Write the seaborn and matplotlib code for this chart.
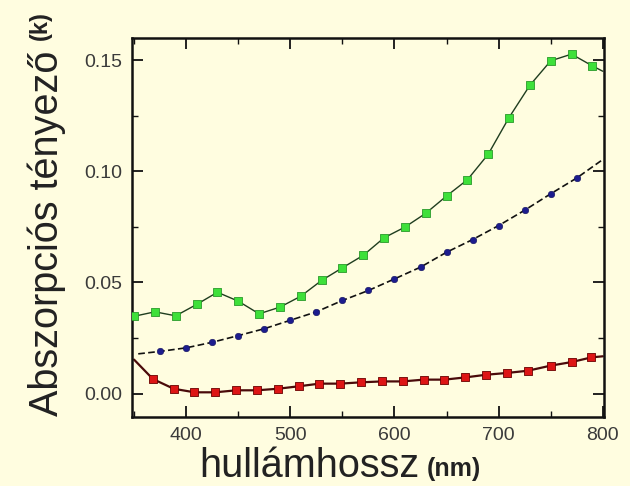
import numpy as np
import pandas as pd
import seaborn as sns
import matplotlib.pyplot as plt
from matplotlib.ticker import MultipleLocator

# wavelength (nm) and absorption coefficient k
green_wl = [350, 370, 390, 410, 430, 450, 470, 490, 510, 530, 550, 570, 590, 610,
            630, 650, 670, 690, 710, 730, 750, 770, 790, 800]
green_k = [0.0348, 0.0368, 0.0350, 0.0401, 0.0456, 0.0416, 0.0359, 0.0389, 0.0438,
           0.0509, 0.0566, 0.0622, 0.0701, 0.0749, 0.0811, 0.0889, 0.0962, 0.1077,
           0.1242, 0.1387, 0.1497, 0.1527, 0.1474, 0.1450]

blue_wl = [354, 375, 400, 425, 450, 475, 500, 525, 550, 575, 600, 625, 650, 675,
           700, 725, 750, 775, 800]
blue_k = [0.0179, 0.0190, 0.0206, 0.0231, 0.0261, 0.0292, 0.0330, 0.0368, 0.0419,
          0.0464, 0.0516, 0.0569, 0.0636, 0.0693, 0.0756, 0.0825, 0.0899, 0.0970,
          0.1053]

red_wl = [350, 368, 388, 408, 428, 448, 468, 488, 508, 528, 548, 568, 588, 608,
          628, 648, 668, 688, 708, 728, 750, 770, 789, 800]
red_k = [0.0153, 0.0066, 0.0022, 0.0006, 0.0006, 0.0015, 0.0015, 0.0022, 0.0033,
         0.0045, 0.0045, 0.0051, 0.0055, 0.0055, 0.0063, 0.0063, 0.0073, 0.0085,
         0.0093, 0.0103, 0.0126, 0.0142, 0.0163, 0.0168]

bg = '#fffde0'

sns.set_theme(style="ticks")
plt.rcParams['font.family'] = ['Liberation Sans', 'DejaVu Sans']

fig = plt.figure(figsize=(6.3, 4.86), dpi=100, facecolor=bg)
ax = fig.add_axes([0.2095, 0.142, 0.749, 0.780])
ax.set_facecolor(bg)

green = pd.DataFrame({'wl': green_wl, 'k': green_k})
blue = pd.DataFrame({'wl': blue_wl, 'k': blue_k})
red = pd.DataFrame({'wl': red_wl, 'k': red_k})

# lines
sns.lineplot(data=green, x='wl', y='k', ax=ax, color='#1f3d1f', lw=1.0,
             estimator=None, sort=False)
sns.lineplot(data=blue, x='wl', y='k', ax=ax, color='#111111', lw=1.2,
             estimator=None, sort=False, dashes=False, linestyle=(0, (4, 2)))
sns.lineplot(data=red, x='wl', y='k', ax=ax, color='#4a0a0a', lw=1.6,
             estimator=None, sort=False)

# markers (end points of the curves have none)
sns.scatterplot(data=green.iloc[:-1], x='wl', y='k', ax=ax, marker='s', s=34,
                color='#3ee03a', edgecolor='#2a9a2a', linewidth=0.6, zorder=3)
sns.scatterplot(data=blue.iloc[1:-1], x='wl', y='k', ax=ax, marker='o', s=22,
                color='#1c1c8e', edgecolor='#10105a', linewidth=0.4, zorder=3)
sns.scatterplot(data=red.iloc[1:-1], x='wl', y='k', ax=ax, marker='s', s=36,
                color='#dd1515', edgecolor='#6a0000', linewidth=0.6, zorder=3)

ax.set_xlim(348, 801)
ax.set_ylim(-0.0105, 0.160)
ax.set_xticks([400, 500, 600, 700, 800])
ax.set_yticks([0.00, 0.05, 0.10, 0.15])
ax.set_yticklabels(['0.00', '0.05', '0.10', '0.15'])
ax.xaxis.set_minor_locator(MultipleLocator(50))
ax.yaxis.set_minor_locator(MultipleLocator(0.025))
ax.tick_params(which='both', direction='in', top=True, right=True,
               labelsize=14, labelcolor='#3a3a3a', color='#111111')
ax.tick_params(which='major', length=8, width=1.3, pad=7)
ax.tick_params(which='minor', length=4, width=1.0)
for sp in ax.spines.values():
    sp.set_linewidth(1.8)
    sp.set_color('#111111')

ax.set_xlabel('')
ax.set_ylabel('')
fig.text(0.316, 0.018, 'hullámhossz', fontsize=28.5, color='#222222')
fig.text(0.677, 0.02, '(nm)', fontsize=18, fontweight='bold', color='#222222')
fig.text(0.043, 0.145, 'Abszorpciós tényező', fontsize=28.5, rotation=90,
         color='#222222', va='bottom')
fig.text(0.046, 0.918, '(k)', fontsize=17, fontweight='bold', rotation=90,
         color='#222222', va='bottom')

fig.savefig('out.png', dpi=100, facecolor=bg)
